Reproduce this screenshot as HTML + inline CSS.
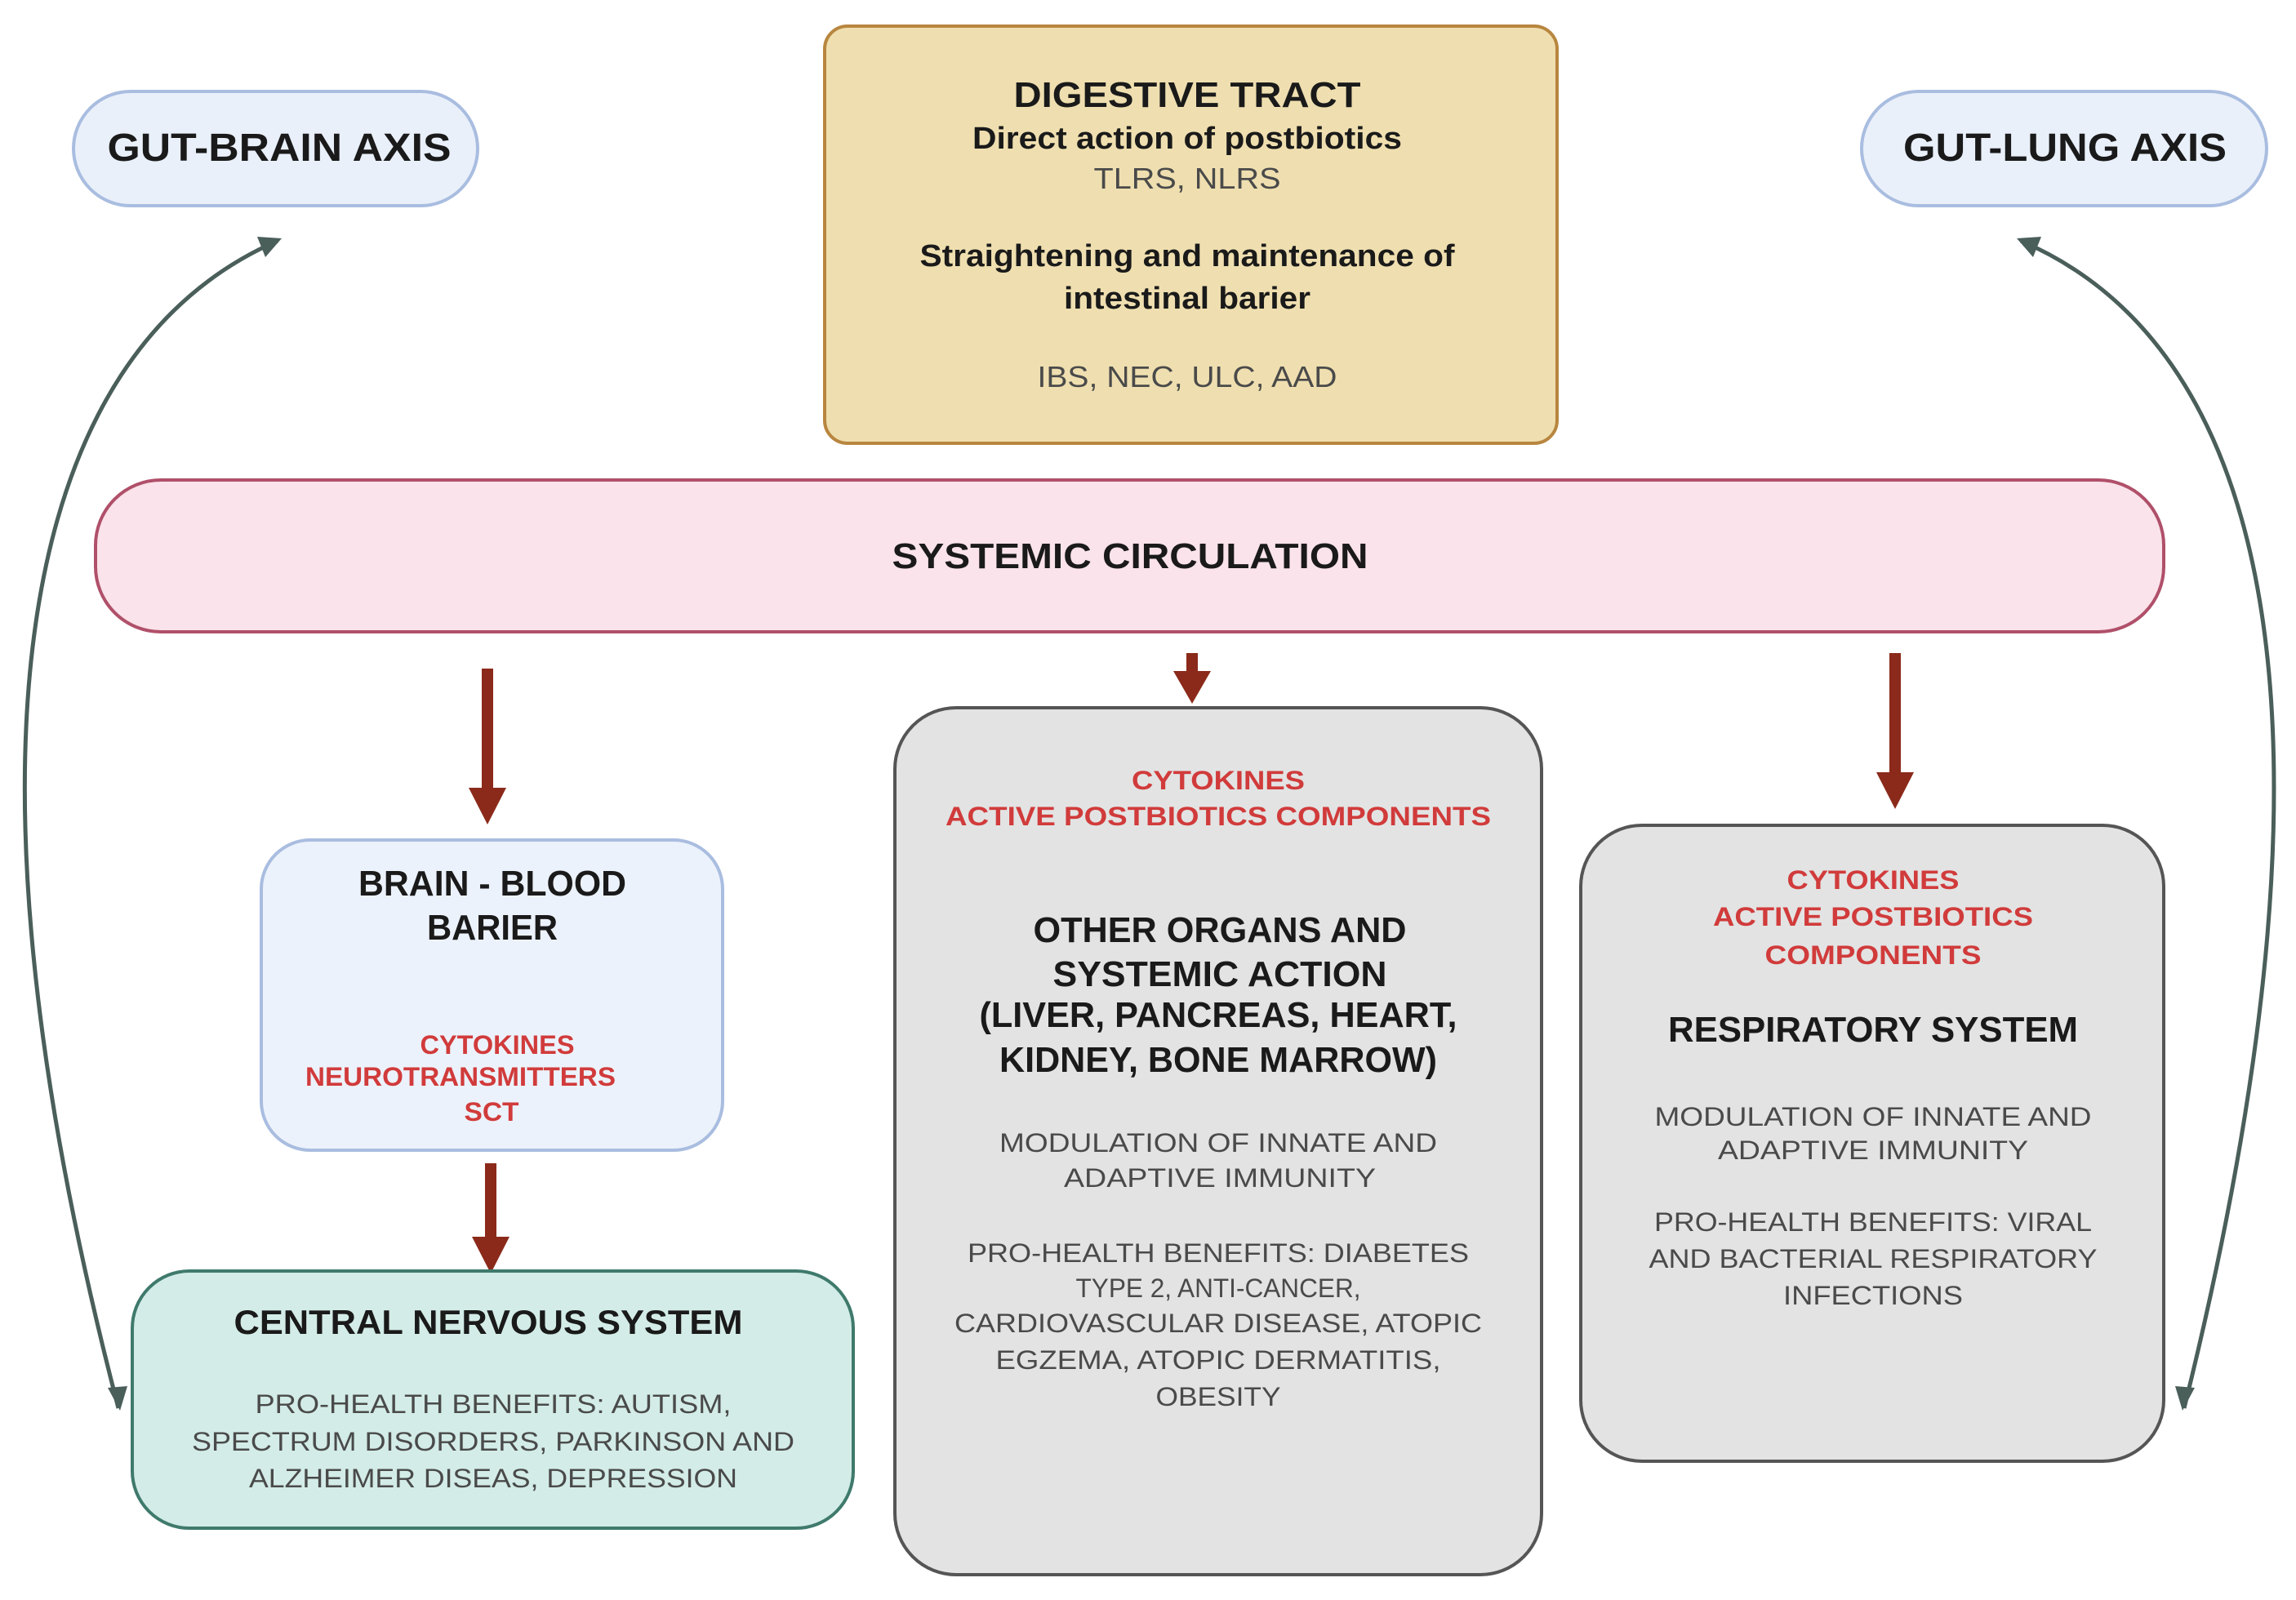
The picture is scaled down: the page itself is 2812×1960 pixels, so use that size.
<!DOCTYPE html>
<html><head><meta charset="utf-8"><style>
html,body{margin:0;padding:0;background:#fff;}
svg{display:block;}
text{font-family:"Liberation Sans",sans-serif;text-anchor:middle;}
.b{font-weight:bold;fill:#1a1a1a;}
.r{font-weight:bold;fill:#d13b3b;}
.g{fill:#4a4a4a;}
</style></head><body>
<svg width="2812" height="1960" viewBox="0 0 2812 1960" xmlns="http://www.w3.org/2000/svg">
<!-- curves -->
<path d="M340,295 C30,430 -70,900 145,1725" fill="none" stroke="#4a5e5a" stroke-width="5"/>
<path d="M2475,295 C2790,430 2880,900 2675,1725" fill="none" stroke="#4a5e5a" stroke-width="5"/>
<polygon points="345,292 315,290 325,315" fill="#4a5e5a"/>
<polygon points="147,1728 132,1700 156,1698" fill="#4a5e5a"/>
<polygon points="2470,292 2500,290 2490,315" fill="#4a5e5a"/>
<polygon points="2673,1728 2688,1700 2664,1698" fill="#4a5e5a"/>

<!-- gut-brain -->
<rect x="90" y="112" width="495" height="140" rx="70" fill="#e9f0fa" stroke="#a9bde0" stroke-width="4"/>
<text class="b" x="342" y="197" font-size="48" textLength="421" lengthAdjust="spacingAndGlyphs">GUT-BRAIN AXIS</text>
<rect x="2280" y="112" width="496" height="140" rx="70" fill="#e9f0fa" stroke="#a9bde0" stroke-width="4"/>
<text class="b" x="2529" y="197" font-size="48" textLength="396" lengthAdjust="spacingAndGlyphs">GUT-LUNG AXIS</text>

<!-- digestive -->
<rect x="1010" y="32" width="897" height="511" rx="28" fill="#efdfb0" stroke="#b8863f" stroke-width="4"/>
<text class="b" x="1454" y="131" font-size="44" textLength="425" lengthAdjust="spacingAndGlyphs">DIGESTIVE TRACT</text>
<text class="b" x="1454" y="182" font-size="38" textLength="526" lengthAdjust="spacingAndGlyphs">Direct action of postbiotics</text>
<text class="g" x="1454" y="231" font-size="36" textLength="229" lengthAdjust="spacingAndGlyphs">TLRS, NLRS</text>
<text class="b" x="1454" y="326" font-size="38" textLength="655" lengthAdjust="spacingAndGlyphs">Straightening and maintenance of</text>
<text class="b" x="1454" y="378" font-size="38" textLength="302" lengthAdjust="spacingAndGlyphs">intestinal barier</text>
<text class="g" x="1454" y="474" font-size="36" textLength="367" lengthAdjust="spacingAndGlyphs">IBS, NEC, ULC, AAD</text>

<!-- systemic -->
<rect x="117" y="588" width="2533" height="186" rx="80" fill="#fae3ea" stroke="#b0506a" stroke-width="4"/>
<text class="b" x="1384" y="696" font-size="44" textLength="583" lengthAdjust="spacingAndGlyphs">SYSTEMIC CIRCULATION</text>

<!-- red arrows -->
<g fill="#8b2a1a">
<rect x="590" y="819" width="14" height="150"/><polygon points="574,965 620,965 597,1010"/>
<rect x="1453" y="800" width="14" height="25"/><polygon points="1437,822 1483,822 1460,862"/>
<rect x="2314" y="800" width="14" height="150"/><polygon points="2298,946 2344,946 2321,991"/>
<rect x="594" y="1425" width="14" height="95"/><polygon points="578,1515 624,1515 601,1560"/>
</g>

<!-- BBB -->
<rect x="320" y="1029" width="565" height="380" rx="60" fill="#ecf2fb" stroke="#a9bde0" stroke-width="4"/>
<text class="b" x="603" y="1097" font-size="44" textLength="328" lengthAdjust="spacingAndGlyphs">BRAIN - BLOOD</text>
<text class="b" x="603" y="1151" font-size="44" textLength="160" lengthAdjust="spacingAndGlyphs">BARIER</text>
<text class="r" x="609" y="1291" font-size="32" textLength="189" lengthAdjust="spacingAndGlyphs">CYTOKINES</text>
<text class="r" x="564" y="1330" font-size="32" textLength="380" lengthAdjust="spacingAndGlyphs">NEUROTRANSMITTERS</text>
<text class="r" x="602" y="1373" font-size="32" textLength="67" lengthAdjust="spacingAndGlyphs">SCT</text>

<!-- CNS -->
<rect x="162" y="1557" width="883" height="315" rx="70" fill="#d3ece7" stroke="#3f7a6c" stroke-width="4"/>
<text class="b" x="598" y="1634" font-size="42" textLength="623" lengthAdjust="spacingAndGlyphs">CENTRAL NERVOUS SYSTEM</text>
<text class="g" x="604" y="1731" font-size="32" textLength="583" lengthAdjust="spacingAndGlyphs">PRO-HEALTH BENEFITS: AUTISM,</text>
<text class="g" x="604" y="1777" font-size="32" textLength="738" lengthAdjust="spacingAndGlyphs">SPECTRUM DISORDERS, PARKINSON AND</text>
<text class="g" x="604" y="1822" font-size="32" textLength="598" lengthAdjust="spacingAndGlyphs">ALZHEIMER DISEAS, DEPRESSION</text>

<!-- middle -->
<rect x="1096" y="867" width="792" height="1062" rx="75" fill="#e3e3e3" stroke="#555" stroke-width="4"/>
<text class="r" x="1492" y="967" font-size="32" textLength="212" lengthAdjust="spacingAndGlyphs">CYTOKINES</text>
<text class="r" x="1492" y="1011" font-size="32" textLength="668" lengthAdjust="spacingAndGlyphs">ACTIVE POSTBIOTICS COMPONENTS</text>
<text class="b" x="1494" y="1154" font-size="44" textLength="457" lengthAdjust="spacingAndGlyphs">OTHER ORGANS AND</text>
<text class="b" x="1494" y="1208" font-size="44" textLength="409" lengthAdjust="spacingAndGlyphs">SYSTEMIC ACTION</text>
<text class="b" x="1492" y="1258" font-size="44" textLength="585" lengthAdjust="spacingAndGlyphs">(LIVER, PANCREAS, HEART,</text>
<text class="b" x="1492" y="1313" font-size="44" textLength="536" lengthAdjust="spacingAndGlyphs">KIDNEY, BONE MARROW)</text>
<text class="g" x="1492" y="1411" font-size="32" textLength="536" lengthAdjust="spacingAndGlyphs">MODULATION OF INNATE AND</text>
<text class="g" x="1494" y="1454" font-size="32" textLength="382" lengthAdjust="spacingAndGlyphs">ADAPTIVE IMMUNITY</text>
<text class="g" x="1492" y="1546" font-size="32" textLength="614" lengthAdjust="spacingAndGlyphs">PRO-HEALTH BENEFITS: DIABETES</text>
<text class="g" x="1492" y="1589" font-size="32" textLength="349" lengthAdjust="spacingAndGlyphs">TYPE 2, ANTI-CANCER,</text>
<text class="g" x="1492" y="1632" font-size="32" textLength="646" lengthAdjust="spacingAndGlyphs">CARDIOVASCULAR DISEASE, ATOPIC</text>
<text class="g" x="1492" y="1677" font-size="32" textLength="545" lengthAdjust="spacingAndGlyphs">EGZEMA, ATOPIC DERMATITIS,</text>
<text class="g" x="1492" y="1722" font-size="32" textLength="153" lengthAdjust="spacingAndGlyphs">OBESITY</text>

<!-- right -->
<rect x="1936" y="1011" width="714" height="779" rx="75" fill="#e3e3e3" stroke="#555" stroke-width="4"/>
<text class="r" x="2294" y="1089" font-size="32" textLength="211" lengthAdjust="spacingAndGlyphs">CYTOKINES</text>
<text class="r" x="2294" y="1134" font-size="32" textLength="392" lengthAdjust="spacingAndGlyphs">ACTIVE POSTBIOTICS</text>
<text class="r" x="2294" y="1181" font-size="32" textLength="265" lengthAdjust="spacingAndGlyphs">COMPONENTS</text>
<text class="b" x="2294" y="1276" font-size="44" textLength="502" lengthAdjust="spacingAndGlyphs">RESPIRATORY SYSTEM</text>
<text class="g" x="2294" y="1379" font-size="32" textLength="535" lengthAdjust="spacingAndGlyphs">MODULATION OF INNATE AND</text>
<text class="g" x="2294" y="1420" font-size="32" textLength="380" lengthAdjust="spacingAndGlyphs">ADAPTIVE IMMUNITY</text>
<text class="g" x="2294" y="1508" font-size="32" textLength="536" lengthAdjust="spacingAndGlyphs">PRO-HEALTH BENEFITS: VIRAL</text>
<text class="g" x="2294" y="1553" font-size="32" textLength="549" lengthAdjust="spacingAndGlyphs">AND BACTERIAL RESPIRATORY</text>
<text class="g" x="2294" y="1598" font-size="32" textLength="220" lengthAdjust="spacingAndGlyphs">INFECTIONS</text>
</svg>
</body></html>
